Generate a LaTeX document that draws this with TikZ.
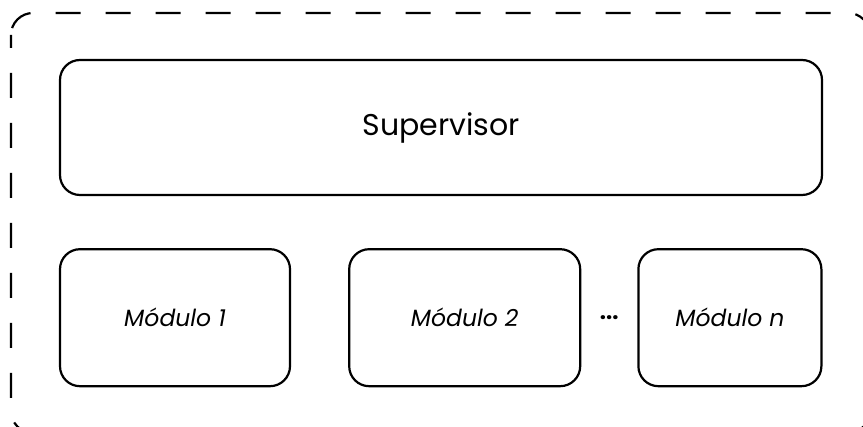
\documentclass[tikz,border=0pt]{standalone}
\usepackage{fontspec}
\setmainfont{Poppins}
\usepackage{tikz}
\usetikzlibrary{positioning, calc}
\tikzset{
  box/.style={rectangle, draw, line width=2.2pt, rounded corners=20pt, minimum height=137pt, align=center},
  frame/.style={draw, line width=2.2pt, rounded corners=22pt, dash pattern=on 25pt off 25pt, dash phase=12pt},
}

\begin{document}
\begin{tikzpicture}[x=1pt, y=-1pt]
    \useasboundingbox (0,0) rectangle (863,427);
    % outer dashed frame, runs past the page edge
    \draw[frame] (11,13) rectangle (870,433);
    \node[box, minimum width=762pt, minimum height=135pt, font=\fontsize{30}{36}\selectfont] (sup) at (441,127.5) {Supervisor};
    \node[box, minimum width=230pt, below=52pt of sup.south west, anchor=north west, font=\fontsize{23.5}{28}\selectfont\itshape] (mod1) {Módulo 1};
    \node[box, minimum width=231pt, right=57pt of mod1, font=\fontsize{23.5}{28}\selectfont\itshape] (mod2) {Módulo 2};
    \node[box, minimum width=183pt, right=56pt of mod2, font=\fontsize{23.5}{28}\selectfont\itshape] (modn) {Módulo n};
    \node[font=\fontsize{22}{24}\selectfont\bfseries] (dots) at ($(mod2.east)!.5!(modn.west)$) {...};
\end{tikzpicture}
\end{document}
